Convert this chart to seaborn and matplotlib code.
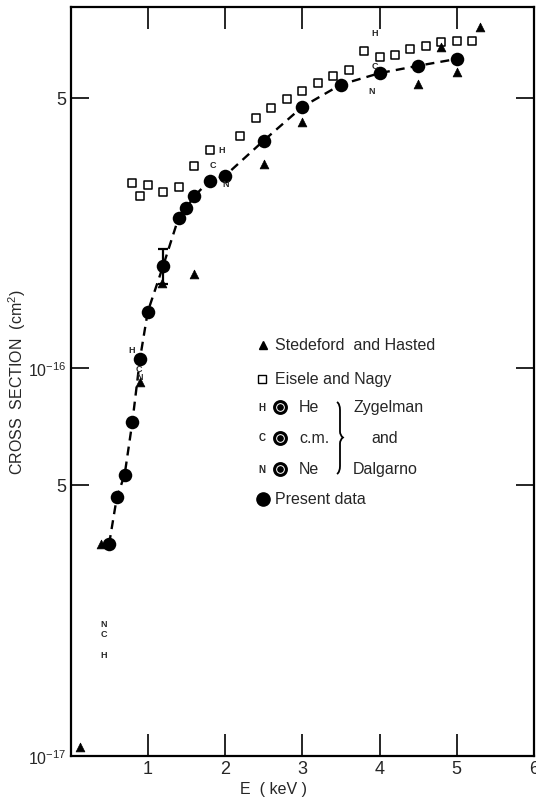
import matplotlib
matplotlib.use("Agg")
import matplotlib.pyplot as plt
import matplotlib.ticker as mticker
from matplotlib.path import Path
from matplotlib.patches import PathPatch
import pandas as pd
import seaborn as sns

# Present data (filled circles + dashed curve)
present_e = [0.5, 0.6, 0.7, 0.8, 0.9, 1.0, 1.2, 1.4, 1.5, 1.6, 1.8, 2.0,
             2.5, 3.0, 3.5, 4.0, 4.5, 5.0]
present_sigma = [3.52e-17, 4.65e-17, 5.30e-17, 7.25e-17, 1.06e-16, 1.40e-16,
                 1.84e-16, 2.45e-16, 2.59e-16, 2.78e-16, 3.05e-16, 3.14e-16,
                 3.87e-16, 4.73e-16, 5.40e-16, 5.78e-16, 6.04e-16, 6.29e-16]
errbar_e = 1.2
errbar_lo, errbar_hi = 1.65e-16, 2.03e-16

# Stedeford and Hasted (triangles)
sh_e = [0.12, 0.40, 0.90, 1.18, 1.6, 2.5, 3.0, 4.5, 4.8, 5.0, 5.3]
sh_sigma = [1.05e-17, 3.52e-17, 9.2e-17, 1.66e-16, 1.75e-16, 3.37e-16,
            4.33e-16, 5.42e-16, 6.76e-16, 5.81e-16, 7.59e-16]

# Eisele and Nagy (open squares)
en_e = [0.8, 0.9, 1.0, 1.2, 1.4, 1.6, 1.8, 2.2, 2.4, 2.6, 2.8, 3.0, 3.2,
        3.4, 3.6, 3.8, 4.0, 4.2, 4.4, 4.6, 4.8, 5.0, 5.2]
en_sigma = [3.00e-16, 2.78e-16, 2.98e-16, 2.85e-16, 2.94e-16, 3.32e-16,
            3.66e-16, 3.99e-16, 4.43e-16, 4.69e-16, 4.95e-16, 5.21e-16,
            5.45e-16, 5.69e-16, 5.90e-16, 6.58e-16, 6.35e-16, 6.44e-16,
            6.67e-16, 6.78e-16, 6.94e-16, 6.98e-16, 7.01e-16]

# Zygelman and Dalgarno (letter markers)
he_e = [0.43, 0.79, 1.96, 3.94]
he_sigma = [1.83e-17, 1.12e-16, 3.67e-16, 7.37e-16]
cm_e = [0.43, 0.89, 1.84, 3.94]
cm_sigma = [2.07e-17, 1.0e-16, 3.35e-16, 6.04e-16]
ne_e = [0.43, 0.89, 2.01, 3.90]
ne_sigma = [2.20e-17, 9.5e-17, 3.0e-16, 5.21e-16]

x_ticks = [1, 2, 3, 4, 5, 6]
x_ticklabels = ["1", "2", "3", "4", "5", "6"]
y_ticks = [1e-17, 5e-17, 1e-16, 5e-16]
y_ticklabels = ["$10^{-17}$", "5", "$10^{-16}$", "5"]

sns.set_style("ticks")
plt.rcParams["font.family"] = ["Liberation Sans", "DejaVu Sans"]
plt.rcParams["mathtext.fontset"] = "custom"
plt.rcParams["mathtext.rm"] = "Liberation Sans"

W, H = 536, 803
fig = plt.figure(figsize=(W / 100, H / 100), dpi=100)
ax = fig.add_axes([70.5 / W, 1 - 756.7 / H, (534 - 70.5) / W, (756.7 - 8.3) / H])

present = pd.DataFrame({"E": present_e, "sigma": present_sigma})
sh = pd.DataFrame({"E": sh_e, "sigma": sh_sigma})
en = pd.DataFrame({"E": en_e, "sigma": en_sigma})

# dashed curve through present data
sns.lineplot(data=present, x="E", y="sigma", ax=ax, color="black", lw=1.7,
             dashes=False, zorder=2)
ax.lines[-1].set_dashes((3.8, 2.6))

sns.scatterplot(data=en, x="E", y="sigma", ax=ax, marker="s", s=30,
                facecolor="white", edgecolor="black", linewidth=1.1, zorder=3)
sns.scatterplot(data=sh, x="E", y="sigma", ax=ax, marker="^", s=40,
                color="black", edgecolor="black", linewidth=0.5, zorder=4)
sns.scatterplot(data=present, x="E", y="sigma", ax=ax, marker="o", s=95,
                color="black", edgecolor="black", linewidth=0, zorder=5)
mid = present_sigma[present_e.index(errbar_e)]
ax.errorbar([errbar_e], [mid], yerr=[[mid - errbar_lo], [errbar_hi - mid]],
            fmt="none", ecolor="black", elinewidth=1.6, capsize=3.5,
            capthick=1.6, zorder=5)

for xs, ys, letter in [(he_e, he_sigma, "H"), (cm_e, cm_sigma, "C"),
                       (ne_e, ne_sigma, "N")]:
    for xv, yv in zip(xs, ys):
        ax.text(xv, yv, letter, fontsize=6.5, fontweight="bold",
                ha="center", va="center", zorder=6)

ax.set_yscale("log")
ax.set_xlim(0, 6)
ax.set_ylim(1e-17, 8.55e-16)

ax.set_xticks(x_ticks)
ax.set_xticklabels(x_ticklabels, fontsize=13)
ax.set_yticks(y_ticks)
ax.set_yticklabels(y_ticklabels, fontsize=13)
for lab in ax.get_yticklabels():
    if lab.get_text().startswith("$"):
        lab.set_fontsize(11.5)
ax.yaxis.set_minor_locator(mticker.NullLocator())
ax.xaxis.set_minor_locator(mticker.NullLocator())
ax.tick_params(axis="x", direction="in", top=True, labeltop=False,
               length=16, width=1.4, pad=3)
ax.tick_params(axis="y", direction="in", right=True, labelright=False,
               length=13, width=1.4, pad=3)

for sp in ax.spines.values():
    sp.set_linewidth(1.6)
    sp.set_color("black")

ax.set_xlabel("")
ax.set_ylabel("CROSS  SECTION  (cm$^2$)", fontsize=11.5)
ax.yaxis.set_label_coords(-0.092, 0.5)
fig.text(274 / W, 1 - 790 / H, "E  ( keV )", fontsize=11.5,
         ha="center", va="center")


# hand-made key
def fp(px, py):
    return px / W, 1 - py / H


leg_fs = 11.5
for py, label in [(346, "Stedeford  and Hasted"), (380, "Eisele and Nagy"),
                  (500, "Present data")]:
    fig.text(*fp(275, py), label, fontsize=leg_fs, ha="left", va="center")
mk = dict(transform=fig.transFigure, color="black", linestyle="none",
          clip_on=False)
ax.plot(*fp(263.3, 346), marker="^", markersize=6, **mk)
ax.plot(*fp(262.3, 380), marker="s", markersize=5.2, mfc="white", mew=1.0, **mk)
ax.plot(*fp(263.3, 500), marker="o", markersize=9.5, **mk)
for py, letter, label in [(408, "H", "He"), (438.5, "C", "c.m."), (470, "N", "Ne")]:
    fig.text(*fp(261.7, py), letter, fontsize=7, fontweight="bold",
             ha="center", va="center")
    ax.plot(*fp(280, py), marker="o", markersize=8.5, mfc="white", mew=2.2, **mk)
    ax.plot(*fp(280, py), marker="o", markersize=3.8, **mk)
    fig.text(*fp(299, py), label, fontsize=leg_fs, ha="left", va="center")
fig.text(*fp(353, 408), "Zygelman", fontsize=leg_fs, ha="left", va="center")
fig.text(*fp(371.5, 438.5), "and", fontsize=leg_fs, ha="left", va="center")
fig.text(*fp(353, 470), "Dalgarno", fontsize=leg_fs, ha="left", va="center")

# brace
bx, top, bmid, bot = 337, 403, 438.5, 475
verts = [fp(bx, top), fp(bx + 3, top + 2), fp(bx + 3, top + 8),
         fp(bx + 3, bmid - 6), fp(bx + 3, bmid - 2), fp(bx + 6, bmid),
         fp(bx + 3, bmid + 2), fp(bx + 3, bmid + 6),
         fp(bx + 3, bot - 8), fp(bx + 3, bot - 2), fp(bx, bot)]
codes = [Path.MOVETO, Path.CURVE3, Path.CURVE3, Path.LINETO,
         Path.CURVE3, Path.CURVE3, Path.CURVE3, Path.CURVE3,
         Path.LINETO, Path.CURVE3, Path.CURVE3]
fig.patches.append(PathPatch(Path(verts, codes), transform=fig.transFigure,
                             fill=False, lw=1.3, ec="black"))

fig.savefig("out.png", dpi=100)
